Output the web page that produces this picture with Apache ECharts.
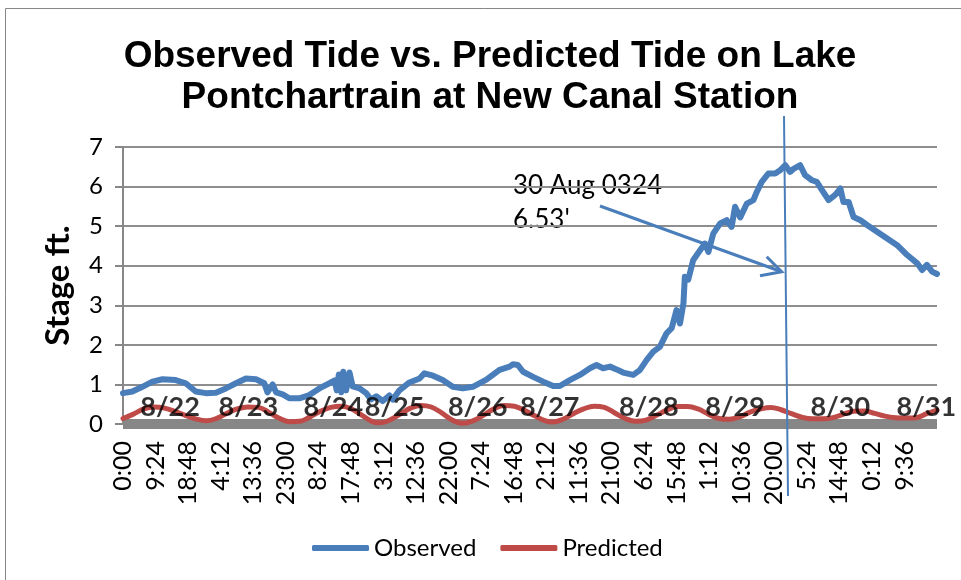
<!DOCTYPE html>
<html lang="en" style="height: 100%">
<head>
    <meta charset="UTF-8">
    <title>Observed vs Predicted Tide</title>
    <style>
        #main{
            width: 961px;
            height: 580px;
        }
    </style>
    <script type="text/javascript" src="https://cdn.jsdelivr.net/npm/echarts@6/dist/echarts.min.js"></script>
</head>
<body style="margin: 0; background: #fff">
<div id="main"></div>
<script>
    // hours after 8/22 0:00 and stage (ft)
    var obsHours = [0, 2.7, 5.6, 8.5, 11.4, 15.2, 18.1, 21, 23.9, 26.8, 29.7, 32.6, 35.5, 38.4, 40.8, 41.7, 43.2, 44.2, 46.1, 48,
        50.9, 53.8, 56.7, 59.6, 61.1, 61.7, 62.3, 63, 63.6, 64.4, 65.4, 66.3, 68.3, 70.2, 71.6, 73.1, 75, 76.9, 77.9, 79.8,
        82.7, 85.6, 87, 89.5, 92.3, 95.2, 98.1, 101, 104.9, 108.7, 111.6, 112.6, 114, 115.5, 118.4, 121.3, 124.2, 126.1, 129, 131.9,
        134.8, 136.7, 138.6, 140.6, 142.5, 144.4, 147.3, 149.2, 151.2, 153.1, 155, 156.9, 158.4, 159.8, 160.8, 161.8, 162.2, 163.2, 164.6, 166.6,
        168, 169, 170.4, 172.4, 174.3, 175.7, 176.7, 178.2, 180.1, 182, 183, 184.4, 186.3, 188.3, 189.7, 191.2, 192.6, 193.6, 195.5, 196.9,
        198.9, 200.3, 201.8, 203.7, 205.6, 207.1, 208, 209.5, 210.9, 212.9, 214.8, 217.7, 220.6, 223.5, 226.4, 229.3, 230.7, 232.1, 233.6, 235];
    var obsStage = [0.78, 0.82, 0.94, 1.07, 1.13, 1.11, 1.03, 0.82, 0.78, 0.79, 0.90, 1.03, 1.15, 1.13, 1.03, 0.80, 1.00, 0.80, 0.75, 0.65,
        0.65, 0.73, 0.90, 1.03, 1.10, 0.85, 1.25, 0.80, 1.32, 0.85, 1.30, 0.95, 0.90, 0.78, 0.62, 0.70, 0.58, 0.72, 0.62, 0.85,
        1.05, 1.15, 1.28, 1.22, 1.11, 0.94, 0.90, 0.94, 1.12, 1.37, 1.45, 1.51, 1.49, 1.32, 1.19, 1.07, 0.96, 0.96, 1.11, 1.24,
        1.41, 1.49, 1.41, 1.45, 1.38, 1.30, 1.24, 1.36, 1.62, 1.83, 1.95, 2.29, 2.42, 2.88, 2.54, 3.05, 3.72, 3.65, 4.14, 4.39,
        4.56, 4.35, 4.81, 5.07, 5.15, 4.98, 5.49, 5.22, 5.57, 5.66, 5.87, 6.12, 6.33, 6.33, 6.41, 6.54, 6.37, 6.45, 6.54, 6.29,
        6.16, 6.12, 5.91, 5.66, 5.79, 5.95, 5.61, 5.61, 5.23, 5.15, 5.03, 4.86, 4.69, 4.52, 4.27, 4.06, 3.89, 4.02, 3.85, 3.79];

    var predHours = [0, 3, 6, 9, 12, 15, 18, 21, 24, 27, 30, 33, 36, 39, 42, 45, 48, 51, 54, 57,
        60, 63, 66, 69, 72, 74, 77, 80, 83, 86, 89, 92, 95, 98, 101, 104, 107, 110, 113, 116,
        119, 122, 124, 127, 130, 133, 136, 139, 142, 145, 148, 151, 154, 157, 160, 163, 166, 169, 172, 175,
        178, 181, 184, 187, 190, 193, 196, 199, 202, 205, 208, 211, 214, 217, 220, 223, 226, 229, 232, 235];
    var predStage = [0.14, 0.25, 0.38, 0.43, 0.40, 0.32, 0.22, 0.13, 0.08, 0.14, 0.27, 0.38, 0.43, 0.42, 0.30, 0.15, 0.06, 0.07, 0.18, 0.32,
        0.42, 0.45, 0.38, 0.22, 0.06, 0.03, 0.10, 0.25, 0.40, 0.47, 0.43, 0.28, 0.10, 0.02, 0.08, 0.22, 0.38, 0.47, 0.45, 0.34,
        0.20, 0.08, 0.05, 0.12, 0.26, 0.38, 0.45, 0.42, 0.28, 0.14, 0.07, 0.10, 0.22, 0.35, 0.44, 0.44, 0.38, 0.25, 0.14, 0.12,
        0.18, 0.30, 0.38, 0.42, 0.36, 0.26, 0.17, 0.13, 0.13, 0.16, 0.25, 0.32, 0.33, 0.27, 0.20, 0.16, 0.15, 0.16, 0.26, 0.35];

    // day labels drawn along the bottom of the plot
    var dayNames = ['8/22', '8/23', '8/24', '8/25', '8/26', '8/27', '8/28', '8/29', '8/30', '8/31'];
    var dayHours = [13.6, 36.2, 60.7, 78.4, 102.4, 123.2, 151.8, 176.7, 207.1, 231.9];
    var dayLabelStage = 0.43;

    var tickStep = 564;      // minutes between category labels (9:24)
    var xEnd = 14100;        // minutes, last sample

    function toPairs(hours, vals) {
        return hours.map(function (h, i) { return [h * 60, vals[i]]; });
    }

    var chart = echarts.init(document.getElementById('main'));
    var font = 'Lato, "Liberation Sans", sans-serif';
    var blue = '#4A7EBB', red = '#BE4B48', gray = '#878787';

    var option = {
        animation: false,
        backgroundColor: '#fff',
        title: {
            text: 'Observed Tide vs. Predicted Tide on Lake\nPontchartrain at New Canal Station',
            left: 485,
            textAlign: 'center',
            top: 31,
            textStyle: {
                fontFamily: '"Liberation Sans", Arial, sans-serif',
                fontWeight: 'bold',
                fontSize: 37,
                lineHeight: 41,
                color: '#000'
            }
        },
        grid: {left: 123, right: 24, top: 147, bottom: 156},
        legend: {
            data: ['Observed', 'Predicted'],
            left: 307,
            top: 531,
            icon: 'roundRect',
            itemWidth: 57,
            itemHeight: 6,
            itemGap: 24,
            textStyle: {fontFamily: font, fontSize: 24, color: '#000'}
        },
        xAxis: {
            type: 'value',
            min: 0,
            max: xEnd,
            interval: tickStep,
            offset: 5,
            axisLine: {lineStyle: {color: gray, width: 10, cap: 'butt'}},
            axisTick: {show: false},
            splitLine: {show: false},
            axisLabel: {
                rotate: 90,
                margin: 12,
                fontFamily: font,
                fontSize: 25,
                color: '#000',
                showMaxLabel: false,
                formatter: function (v) {
                    if (v % tickStep !== 0) return '';
                    var m = v % 1440;
                    var mm = m % 60;
                    return Math.floor(m / 60) + ':' + (mm < 10 ? '0' : '') + mm;
                }
            }
        },
        yAxis: {
            type: 'value',
            min: 0,
            max: 7,
            interval: 1,
            name: 'Stage ft.',
            nameLocation: 'middle',
            nameGap: 48,
            nameTextStyle: {fontFamily: font, fontWeight: 'bold', fontSize: 33, color: '#000'},
            axisLine: {show: true, lineStyle: {color: gray, width: 2}},
            axisTick: {show: true, inside: false, length: 8, lineStyle: {color: gray, width: 2}},
            splitLine: {lineStyle: {color: '#8E8E8E', width: 2}},
            axisLabel: {margin: 20, fontFamily: font, fontSize: 24, color: '#000'}
        },
        series: [
            {
                name: 'Observed',
                type: 'line',
                symbol: 'none',
                data: toPairs(obsHours, obsStage),
                lineStyle: {color: blue, width: 6, cap: 'round', join: 'round'},
                itemStyle: {color: blue},
                z: 3
            },
            {
                name: 'Predicted',
                type: 'line',
                symbol: 'none',
                smooth: 0.4,
                data: toPairs(predHours, predStage),
                lineStyle: {color: red, width: 5, cap: 'round', join: 'round'},
                itemStyle: {color: red},
                z: 2
            },
            {
                name: 'days',
                type: 'scatter',
                symbolSize: 0,
                silent: true,
                z: 5,
                data: dayHours.map(function (h, i) { return {name: dayNames[i], value: [h * 60, dayLabelStage]}; }),
                label: {
                    show: true,
                    position: 'inside',
                    formatter: '{b}',
                    fontFamily: font,
                    fontWeight: 'bold',
                    fontSize: 27,
                    color: '#000'
                }
            }
        ],
        graphic: [
            // chart area border
            {type: 'rect', shape: {x: 5.5, y: 8.5, width: 1000, height: 600}, style: {fill: null, stroke: gray, lineWidth: 1}, silent: true},
            // annotation
            {type: 'text', left: 513, top: 173, style: {text: '30 Aug 0324', font: '26px Lato', fill: '#000'}},
            {type: 'text', left: 513, top: 207, style: {text: "6.53'", font: '26px Lato', fill: '#000'}},
            {type: 'line', shape: {x1: 600, y1: 206, x2: 781, y2: 271.5}, style: {stroke: blue, lineWidth: 3}, z: 10},
            {type: 'polyline', shape: {points: [[766.7, 256.7], [781.7, 271.7], [760, 275.7]]}, style: {stroke: blue, lineWidth: 3, fill: null}, z: 10},
            {type: 'line', shape: {x1: 784, y1: 116, x2: 788, y2: 496}, style: {stroke: blue, lineWidth: 2}, z: 10}
        ]
    };

    chart.setOption(option);

    window.onresize = function () {
        chart.resize();
    };
</script>
</body>
</html>
